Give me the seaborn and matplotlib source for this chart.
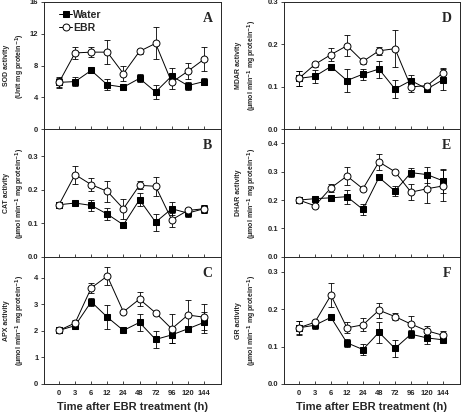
"""
antioxidant enzyme activities after EBR treatment, six panels
"""
import numpy as np
import pandas as pd
import matplotlib
matplotlib.use('Agg')
import matplotlib.pyplot as plt
import seaborn as sns

# x categories (hours)
hours = ['0', '3', '6', '12', '24', '48', '72', '96', '120', '144']

# panel A: SOD
sod_water = [5.9, 6.0, 7.4, 5.6, 5.3, 6.4, 4.7, 6.7, 5.5, 6.0]
sod_water_err = [0.6, 0.6, 0.3, 0.7, 0.3, 0.5, 0.9, 1.0, 0.5, 0.4]
sod_ebr = [5.9, 9.6, 9.7, 9.7, 7.0, 9.8, 10.8, 5.9, 7.3, 8.8]
sod_ebr_err = [0.7, 0.7, 0.6, 1.5, 0.9, 0.3, 2.0, 0.8, 1.0, 1.5]

# panel B: CAT
cat_water = [0.155, 0.16, 0.153, 0.127, 0.095, 0.17, 0.103, 0.143, 0.13, 0.143]
cat_water_err = [0.005, 0.005, 0.017, 0.018, 0.008, 0.02, 0.025, 0.02, 0.012, 0.012]
cat_ebr = [0.155, 0.245, 0.215, 0.195, 0.143, 0.213, 0.21, 0.11, 0.138, 0.143]
cat_ebr_err = [0.008, 0.027, 0.02, 0.032, 0.03, 0.012, 0.028, 0.02, 0.008, 0.012]

# panel C: APX
apx_water = [2.02, 2.2, 3.1, 2.52, 2.02, 2.32, 1.68, 1.85, 2.08, 2.32]
apx_water_err = [0.05, 0.1, 0.15, 0.45, 0.05, 0.33, 0.33, 0.3, 0.1, 0.4]
apx_ebr = [2.02, 2.3, 3.62, 4.07, 2.72, 3.2, 2.68, 2.08, 2.6, 2.52]
apx_ebr_err = [0.05, 0.12, 0.18, 0.35, 0.05, 0.25, 0.08, 0.55, 0.55, 0.5]

# panel D: MDAR
mdar_water = [0.12, 0.125, 0.148, 0.115, 0.13, 0.142, 0.095, 0.115, 0.095, 0.117]
mdar_water_err = [0.017, 0.015, 0.005, 0.028, 0.013, 0.02, 0.022, 0.013, 0.005, 0.025]
mdar_ebr = [0.12, 0.153, 0.176, 0.197, 0.16, 0.185, 0.19, 0.1, 0.103, 0.133]
mdar_ebr_err = [0.018, 0.005, 0.015, 0.025, 0.005, 0.01, 0.043, 0.013, 0.007, 0.012]

# panel E: DHAR
dhar_water = [0.2, 0.205, 0.208, 0.212, 0.167, 0.28, 0.232, 0.297, 0.29, 0.268]
dhar_water_err = [0.005, 0.005, 0.005, 0.025, 0.02, 0.005, 0.018, 0.015, 0.028, 0.043]
dhar_ebr = [0.2, 0.18, 0.243, 0.285, 0.24, 0.335, 0.3, 0.228, 0.24, 0.25]
dhar_ebr_err = [0.005, 0.005, 0.015, 0.033, 0.005, 0.028, 0.005, 0.028, 0.05, 0.055]

# panel F: GR
gr_water = [0.15, 0.157, 0.178, 0.11, 0.092, 0.138, 0.095, 0.133, 0.123, 0.118]
gr_water_err = [0.017, 0.01, 0.005, 0.01, 0.015, 0.028, 0.023, 0.01, 0.015, 0.005]
gr_ebr = [0.15, 0.165, 0.237, 0.15, 0.158, 0.197, 0.18, 0.16, 0.142, 0.13]
gr_ebr_err = [0.018, 0.005, 0.032, 0.015, 0.017, 0.02, 0.01, 0.022, 0.013, 0.012]

unit = '(μmol min$^{-1}$ mg protein$^{-1}$)'
panels = [
    # letter, enzyme, ylabel unit, water, water err, ebr, ebr err, ylim, yticks, fmt
    ('A', 'SOD', '(Unit mg protein$^{-1}$)', sod_water, sod_water_err, sod_ebr, sod_ebr_err,
     (0, 16), [0, 4, 8, 12, 16], '{:.0f}'),
    ('B', 'CAT', unit, cat_water, cat_water_err, cat_ebr, cat_ebr_err,
     (0, 0.38), [0.0, 0.1, 0.2, 0.3], '{:.1f}'),
    ('C', 'APX', unit, apx_water, apx_water_err, apx_ebr, apx_ebr_err,
     (0, 4.8), [0, 1, 2, 3, 4], '{:.0f}'),
    ('D', 'MDAR', unit, mdar_water, mdar_water_err, mdar_ebr, mdar_ebr_err,
     (0, 0.3), [0.0, 0.1, 0.2, 0.3], '{:.1f}'),
    ('E', 'DHAR', unit, dhar_water, dhar_water_err, dhar_ebr, dhar_ebr_err,
     (0, 0.45), [0.0, 0.1, 0.2, 0.3, 0.4], '{:.1f}'),
    ('F', 'GR', unit, gr_water, gr_water_err, gr_ebr, gr_ebr_err,
     (0, 0.34), [0.0, 0.1, 0.2, 0.3], '{:.1f}'),
]

sns.set_style('ticks')
plt.rcParams['font.family'] = ['Liberation Sans', 'DejaVu Sans']
plt.rcParams['font.weight'] = 'bold'
plt.rcParams['mathtext.default'] = 'bf'

fig = plt.figure(figsize=(4.62, 4.12), dpi=100)
top, bottom = 1 - 2 / 412, 1 - 384 / 412
cols = [(44 / 462, 221 / 462), (284 / 462, 460 / 462)]
# distance (px) of the two-line y label centre from the axis, per column
label_off = [29, 37]
h = (top - bottom) / 3
pos = np.arange(len(hours))

for i, (letter, enzyme, ylab, w, we, e, ee, ylim, yt, fmt) in enumerate(panels):
    c, r = divmod(i, 3)
    x0, x1 = cols[c]
    ax = fig.add_axes([x0, top - (r + 1) * h, x1 - x0, h])
    ax_w = (x1 - x0) * 462

    df = pd.DataFrame({'pos': np.concatenate([pos, pos]),
                       'val': w + e,
                       'trt': ['Water'] * len(pos) + ['EBR'] * len(pos)})
    for vals, errs in [(w, we), (e, ee)]:
        ax.errorbar(pos, vals, yerr=errs, fmt='none', ecolor='black', elinewidth=0.6,
                    capsize=2, capthick=0.6, zorder=2)
    sns.lineplot(data=df[df.trt == 'Water'], x='pos', y='val', ax=ax, color='black', lw=0.7,
                 marker='s', markersize=4.5, markerfacecolor='black', markeredgecolor='black',
                 label='Water', zorder=3)
    sns.lineplot(data=df[df.trt == 'EBR'], x='pos', y='val', ax=ax, color='black', lw=0.7,
                 marker='o', markersize=5, markerfacecolor='white', markeredgecolor='black',
                 markeredgewidth=0.7, label='EBR', zorder=4)

    ax.set_xlim(-0.93, 10.06)
    ax.set_ylim(*ylim)
    ax.set_yticks(yt)
    ax.set_yticklabels([fmt.format(v) for v in yt], fontsize=5.5, fontweight='bold')
    ax.set_xticks(pos)
    ax.tick_params(axis='x', direction='in', length=2.5, width=0.6)
    ax.tick_params(axis='y', direction='out', length=2.5, width=0.6, pad=1.5)
    if r == 2:
        ax.set_xticklabels(hours, fontsize=5.5, fontweight='bold')
        ax.tick_params(axis='x', pad=4)
        ax.set_xlabel('Time after EBR treatment (h)', fontsize=8, fontweight='bold', labelpad=4)
    else:
        ax.set_xticklabels([])
        ax.set_xlabel('')
    ax.set_ylabel(f'{enzyme} activity\n{ylab}', fontsize=5, fontweight='bold', linespacing=1.5)
    ax.yaxis.set_label_coords(-label_off[c] / ax_w, 0.5)
    ax.yaxis.label.set_verticalalignment('center')
    for s in ax.spines.values():
        s.set_linewidth(0.7)
        s.set_visible(True)
    ax.text(0.925, 0.87, letter, transform=ax.transAxes, ha='center', va='center',
            fontsize=10, fontweight='bold', family='Liberation Serif')
    if letter == 'A':
        ax.legend(loc='upper left', bbox_to_anchor=(0.06, 0.97), frameon=False,
                  handlelength=1.3, handletextpad=0.1, borderaxespad=0, labelspacing=0.3,
                  prop={'weight': 'bold', 'size': 7.5})
    else:
        ax.get_legend().remove()

fig.savefig('out.png', dpi=100)
